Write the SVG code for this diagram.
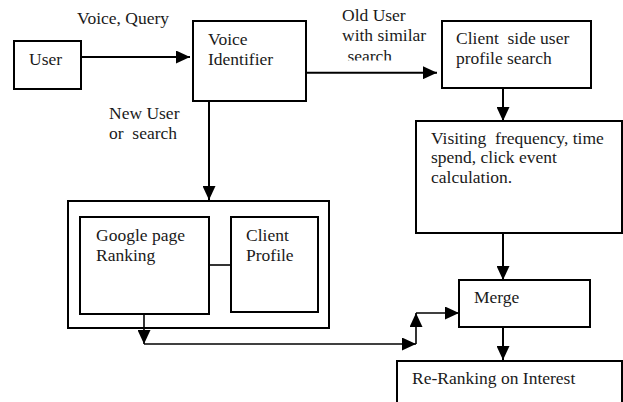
<svg xmlns="http://www.w3.org/2000/svg" width="623" height="402" viewBox="0 0 623 402">
<style>
.box{fill:#fff;stroke:#000;stroke-width:2}
text{font-family:"Liberation Serif","Times New Roman","DejaVu Serif",serif;font-size:17.5px;fill:#1a1a1a;white-space:pre}
.c{stroke:#000;stroke-width:2;fill:none}
.t{stroke:#000;stroke-width:1.6;fill:none}
</style>
<defs>
<marker id="ah" markerWidth="14" markerHeight="13" refX="14" refY="6.5" orient="auto" markerUnits="userSpaceOnUse">
<path d="M0,0 L14,6.5 L0,13 Z" fill="#000"/>
</marker>
<clipPath id="clipS"><rect x="330" y="0" width="120" height="60.5"/></clipPath>
</defs>
<rect width="623" height="402" fill="#fff"/>

<g id="label-voice-query"><text x="77" y="24">Voice, Query</text></g>
<g id="label-old-user">
<text x="342" y="21">Old User</text>
<text x="342" y="41">with similar</text>
<text x="343" y="62" clip-path="url(#clipS)"> search</text>
</g>
<g id="label-new-user">
<text x="109" y="119">New User</text>
<text x="109" y="139">or  search</text>
</g>

<g id="user">
<rect class="box" x="14" y="41" width="67" height="48"/>
<text x="29" y="65">User</text>
</g>

<g id="voice-identifier">
<rect class="box" x="193" y="21" width="113" height="80"/>
<text x="208" y="45">Voice</text>
<text x="208" y="65">Identifier</text>
</g>

<g id="client-side">
<rect class="box" x="442" y="21" width="149" height="67"/>
<text x="456" y="44">Client  side user</text>
<text x="456" y="64">profile search</text>
</g>

<g id="visiting">
<rect class="box" x="416" y="121" width="206" height="112"/>
<text x="431" y="144">Visiting  frequency, time</text>
<text x="431" y="163">spend, click event</text>
<text x="431" y="183">calculation.</text>
</g>

<g id="ranking-group">
<rect class="box" x="68" y="201" width="261" height="127"/>
</g>
<g id="google-page-ranking">
<rect class="box" x="80" y="217" width="129" height="97"/>
<text x="96" y="241">Google page</text>
<text x="96" y="261">Ranking</text>
</g>
<g id="client-profile">
<rect class="box" x="231" y="217" width="87" height="95"/>
<text x="246" y="241">Client</text>
<text x="246" y="261">Profile</text>
</g>

<g id="merge">
<rect class="box" x="459" y="280" width="131" height="47"/>
<text x="474" y="303">Merge</text>
</g>

<g id="re-ranking">
<rect class="box" x="397" y="361" width="225" height="50"/>
<text x="412" y="384">Re-Ranking on Interest</text>
</g>

<g id="connectors">
<line class="c" x1="81" y1="57" x2="190" y2="57" marker-end="url(#ah)"/>
<line class="c" x1="306" y1="72.7" x2="437" y2="72.7" marker-end="url(#ah)"/>
<line class="c" x1="209" y1="101" x2="209" y2="200" marker-end="url(#ah)"/>
<line class="c" x1="503" y1="88" x2="503" y2="121" marker-end="url(#ah)"/>
<line class="c" x1="503" y1="233" x2="503" y2="280" marker-end="url(#ah)"/>
<line class="c" x1="503" y1="327" x2="503" y2="360" marker-end="url(#ah)"/>
<line class="t" x1="210" y1="265" x2="230" y2="265"/>
<line class="t" x1="144" y1="315" x2="144" y2="344" marker-end="url(#ah)"/>
<line class="t" x1="144" y1="344" x2="416" y2="344" marker-end="url(#ah)"/>
<line class="t" x1="416" y1="344" x2="416" y2="313" marker-end="url(#ah)"/>
<line class="t" x1="416" y1="313" x2="459" y2="313" marker-end="url(#ah)"/>
</g>
</svg>
